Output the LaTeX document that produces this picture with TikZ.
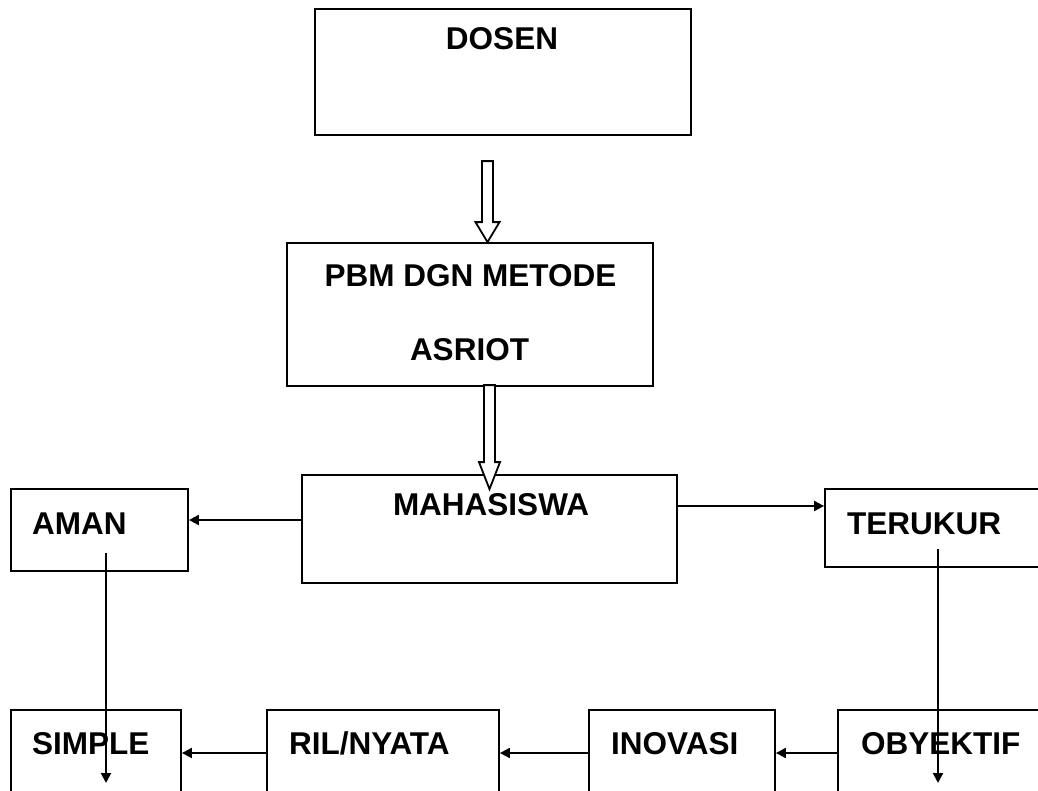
\documentclass[tikz,border=0pt]{standalone}
\usepackage{fontspec}
\setmainfont{Liberation Sans}
\usetikzlibrary{calc,arrows.meta}
\begin{document}
\begin{tikzpicture}[x=1pt,y=-1pt,
  box/.style={draw, line width=1.8pt, inner sep=0pt, rectangle},
  lbl/.style={font=\bfseries\fontsize{31.5}{36}\selectfont, inner sep=0pt},
  arr/.style={line width=2pt, -{Triangle[length=10pt,width=10pt]}},
  hollow/.style={draw, line width=1.8pt, fill=white, line join=miter}]
\useasboundingbox (0,0) rectangle (1038,790);
\clip (0,0) rectangle (1038,790);
% boxes
\node[box, minimum width=376pt, minimum height=126pt] (dosen) at (503,72) {};
\node[box, minimum width=366pt, minimum height=143pt] (pbm) at (470,314.5) {};
\node[box, minimum width=375pt, minimum height=108pt] (mah) at (489.5,529) {};
\node[box, minimum width=177pt, minimum height=82pt] (aman) at (99.5,530) {};
\node[box, minimum width=235pt, minimum height=78pt] (ter) at (942.5,528) {};
\node[box, minimum width=170pt, minimum height=110pt] (simple) at (96,765) {};
\node[box, minimum width=232pt, minimum height=110pt] (ril) at (383,765) {};
\node[box, minimum width=186pt, minimum height=110pt] (inov) at (682,765) {};
\node[box, minimum width=222pt, minimum height=110pt] (oby) at (949,765) {};
% texts
\node[lbl, anchor=base] (tdosen) at (502,49) {DOSEN};
\node[lbl, anchor=base] (tpbm1) at (470.5,286) {PBM DGN METODE};
\node[lbl, anchor=base] (tpbm2) at (469.5,360) {ASRIOT};
\node[lbl, anchor=base] (tmah) at (491,515) {MAHASISWA};
\node[lbl, anchor=base west] (taman) at (32,534) {AMAN};
\node[lbl, anchor=base west] (tter) at (847,534) {TERUKUR};
\node[lbl, anchor=base west] (tsimple) at (32,754) {SIMPLE};
\node[lbl, anchor=base west] (tril) at (289,754) {RIL/NYATA};
\node[lbl, anchor=base west] (tinov) at (611,754) {INOVASI};
\node[lbl, anchor=base west] (toby) at (861,754) {OBYEKTIF};
% hollow arrows
\coordinate (h1) at ([xshift=17.5pt]pbm.north);
\draw[hollow] (h1) -- ++(-12,-20) -- ++(6.5,0) -- ++(0,-61) -- ++(11,0) -- ++(0,61) -- ++(6.5,0) -- cycle;
\coordinate (h2) at ([yshift=-15pt]mah.north);
\draw[hollow] (h2) -- ++(-10.5,-27) -- ++(5,0) -- ++(0,-77) -- ++(11,0) -- ++(0,77) -- ++(5,0) -- cycle;
% connectors
\draw[arr] ([yshift=9pt]mah.west) -- ([yshift=9pt]mah.west -| aman.east);
\draw[arr] ([yshift=23pt]mah.east) -- ([yshift=23pt]mah.east -| ter.west);
\draw[arr] ([yshift=12pt]ril.west) -- ([yshift=12pt]ril.west -| simple.east);
\draw[arr] ([yshift=12pt]inov.west) -- ([yshift=12pt]inov.west -| ril.east);
\draw[arr] ([yshift=12pt]oby.west) -- ([yshift=12pt]oby.west -| inov.east);
\draw[arr] ([xshift=6.5pt,yshift=-23pt]aman.center) -- ++(0,230);
\draw[arr] ([xshift=-4.5pt,yshift=-21pt]ter.center) -- ++(0,234);
\end{tikzpicture}
\end{document}
